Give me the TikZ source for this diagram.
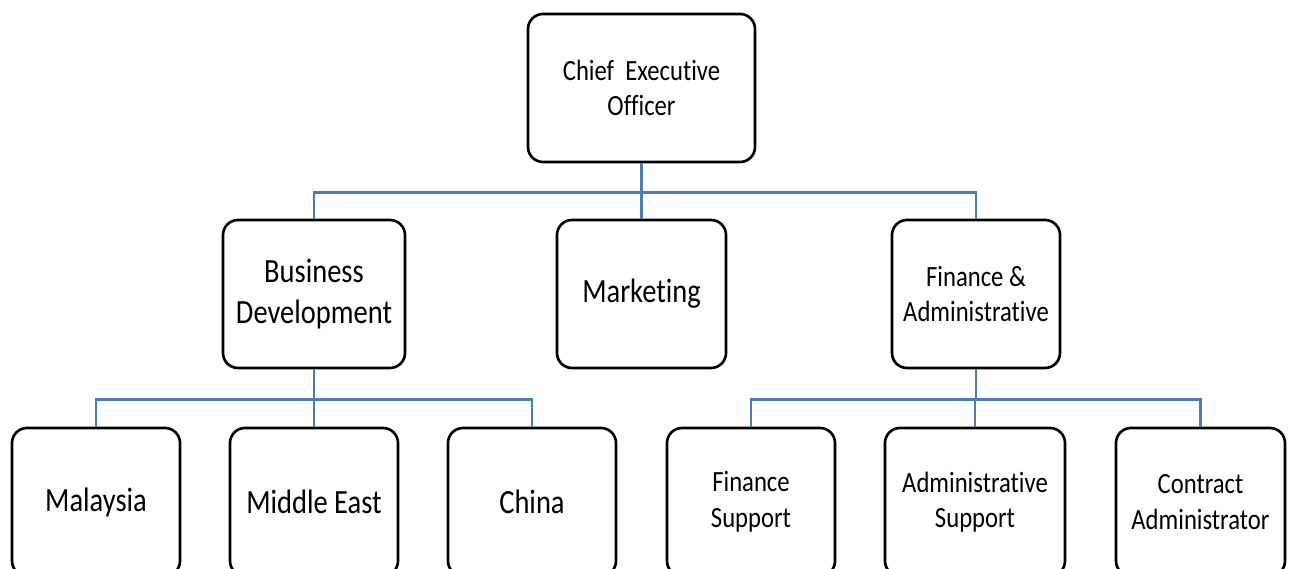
\documentclass[tikz,border=0pt]{standalone}
\usepackage{fontspec}
\setmainfont{Carlito}[FakeStretch=0.84, Ligatures={NoCommon}]
\usepackage{xcolor}
\usepackage{tikz}

\definecolor{linkblue}{RGB}{74,126,187}

\tikzset{
	unit/.style={draw=black, line width=1.5pt, rounded corners=0.3cm, align=center, inner sep=0pt, minimum height=2.96cm, minimum width=3.36cm},
	bigtxt/.style={font={\fontsize{19.3}{23.2}\selectfont}},
	smalltxt/.style={font={\fontsize{16.7}{20.2}\selectfont}},
	conn/.style={draw=linkblue, line width=1.4pt}
}

\begin{document}
\begin{tikzpicture}

\useasboundingbox (0,0) rectangle (25.86,11.38);
\clip (0,0) rectangle (25.86,11.38);

\node[unit, smalltxt, minimum width=4.54cm] (ceo) at (12.83,9.62) {Chief~ Executive\\Officer};

\node[unit, bigtxt, minimum width=3.64cm] (bizdev) at (6.28,5.50) {Business\\Development};
\node[unit, bigtxt, minimum width=3.38cm] (mkt) at (12.83,5.50) {Marketing};
\node[unit, smalltxt] (finadm) at (19.52,5.50) {Finance \&\\Administrative};

\node[unit, bigtxt] (mys) at (1.92,1.34) {Malaysia};
\node[unit, bigtxt] (mideast) at (6.28,1.34) {Middle East};
\node[unit, bigtxt] (chn) at (10.64,1.34) {China};

\node[unit, smalltxt] (finsup) at (15.02,1.34) {Finance\\Support};
\node[unit, smalltxt, minimum width=3.60cm] (admsup) at (19.50,1.34) {Administrative\\Support};
\node[unit, smalltxt, minimum width=3.38cm] (contr) at (24.01,1.34) {Contract\\Administrator};

\foreach \c in {bizdev,mkt,finadm}{
	\draw[conn] (ceo.south) -- ++(0,-0.58) -| (\c.north);
}

\foreach \c in {mys,mideast,chn}{
	\draw[conn] (bizdev.south) -- ++(0,-0.60) -| (\c.north);
}

\foreach \c in {finsup,admsup,contr}{
	\draw[conn] (finadm.south) -- ++(0,-0.60) -| (\c.north);
}

\end{tikzpicture}
\end{document}
